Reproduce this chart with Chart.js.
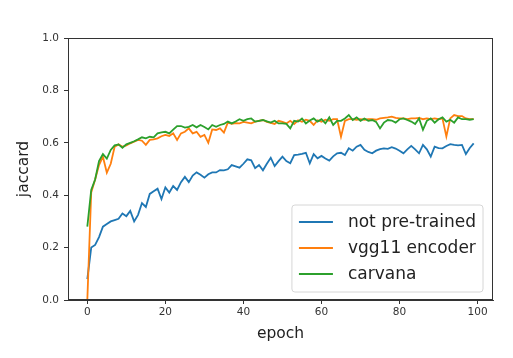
<!DOCTYPE html>
<html>
<head>
<meta charset="utf-8">
<script src="https://cdn.jsdelivr.net/npm/chart.js@4"></script>
<style>
html,body{margin:0;padding:0;background:#fff;}
canvas{display:block;}
</style>
</head>
<body>
<canvas id="c" width="513" height="358"></canvas>
<script>
const epochs = Array.from({length: 100}, (_, i) => i);
const seriesLabels = ["not pre-trained", "vgg11 encoder", "carvana"];
const xTicks = [0, 20, 40, 60, 80, 100];
const yTicks = [0.0, 0.2, 0.4, 0.6, 0.8, 1.0];

const notPretrained = [
0.08,0.20,0.21,0.24,0.28,0.29,0.30,0.305,0.31,0.33,
0.32,0.34,0.30,0.325,0.37,0.355,0.405,0.415,0.425,0.385,
0.43,0.41,0.435,0.42,0.45,0.47,0.45,0.475,0.487,0.478,
0.467,0.48,0.487,0.487,0.496,0.495,0.499,0.515,0.51,0.505,
0.52,0.537,0.533,0.503,0.515,0.495,0.52,0.543,0.511,0.53,
0.547,0.53,0.522,0.553,0.555,0.558,0.562,0.522,0.557,0.541,
0.55,0.54,0.532,0.548,0.56,0.562,0.553,0.579,0.57,0.585,
0.592,0.573,0.565,0.56,0.57,0.576,0.579,0.577,0.583,0.578,
0.57,0.56,0.575,0.588,0.575,0.56,0.592,0.575,0.547,0.585,
0.58,0.579,0.588,0.595,0.592,0.59,0.592,0.557,0.58,0.598
];
const vgg11Encoder = [
0.0,0.41,0.46,0.515,0.547,0.486,0.52,0.585,0.594,0.585,
0.59,0.598,0.604,0.611,0.608,0.592,0.611,0.613,0.617,0.625,
0.63,0.626,0.636,0.611,0.636,0.642,0.655,0.636,0.642,0.623,
0.63,0.60,0.651,0.649,0.655,0.639,0.677,0.672,0.675,0.674,
0.68,0.677,0.674,0.681,0.684,0.687,0.68,0.676,0.672,0.684,
0.68,0.674,0.684,0.672,0.686,0.68,0.688,0.684,0.668,0.686,
0.68,0.688,0.684,0.69,0.69,0.623,0.684,0.69,0.69,0.688,
0.69,0.688,0.69,0.69,0.688,0.693,0.695,0.697,0.70,0.695,
0.693,0.693,0.69,0.693,0.693,0.695,0.69,0.693,0.69,0.693,
0.69,0.693,0.624,0.693,0.706,0.702,0.702,0.693,0.69,0.69
];
const carvana = [
0.28,0.42,0.46,0.53,0.557,0.54,0.573,0.59,0.594,0.581,
0.594,0.60,0.606,0.613,0.621,0.617,0.623,0.621,0.636,0.64,
0.642,0.636,0.65,0.664,0.664,0.658,0.661,0.668,0.659,0.668,
0.66,0.651,0.668,0.661,0.668,0.672,0.681,0.674,0.681,0.69,
0.684,0.69,0.693,0.681,0.684,0.687,0.682,0.677,0.684,0.674,
0.674,0.672,0.655,0.684,0.681,0.693,0.674,0.685,0.693,0.681,
0.69,0.674,0.697,0.668,0.684,0.684,0.693,0.706,0.687,0.697,
0.684,0.693,0.684,0.687,0.68,0.655,0.677,0.687,0.685,0.677,
0.69,0.693,0.687,0.681,0.672,0.693,0.65,0.684,0.693,0.677,
0.69,0.697,0.681,0.688,0.677,0.697,0.69,0.69,0.688,0.69
];

const colors = ["#1f77b4", "#ff7f0e", "#2ca02c"];
const allSeries = [notPretrained, vgg11Encoder, carvana];

const datasets = allSeries.map((vals, i) => ({
  label: seriesLabels[i],
  data: epochs.map((e, j) => ({x: e, y: vals[j]})),
  borderColor: colors[i],
  backgroundColor: colors[i],
  borderWidth: 1.8,
  pointRadius: 0,
  tension: 0,
  fill: false,
  order: 3 - i
}));

const FONT = "'DejaVu Sans', sans-serif";

const framePlugin = {
  id: 'frame',
  afterDatasetsDraw(chart) {
    const {ctx, chartArea: a} = chart;
    ctx.save();
    ctx.strokeStyle = '#333';
    ctx.lineWidth = 1;
    ctx.strokeRect(Math.round(a.left) + 0.5, Math.round(a.top) + 0.5,
                   Math.round(a.right - a.left) - 1, Math.round(a.bottom - a.top) - 1);
    ctx.restore();
  }
};

const legendPlugin = {
  id: 'mplLegend',
  afterDraw(chart) {
    const {ctx, chartArea: a} = chart;
    const fs = 17;
    ctx.save();
    ctx.font = fs + "px " + FONT;
    const padX = 7, handle = 34, gap = 15, step = 26, padTop = 17, padBot = 18;
    let maxW = 0;
    seriesLabels.forEach(l => { maxW = Math.max(maxW, ctx.measureText(l).width); });
    const w = padX + handle + gap + maxW + padX;
    const h = padTop + step * 2 + padBot;
    const right = a.right - 10, bottom = a.bottom - 8;
    const left = right - w, top = bottom - h;
    const r = 3;
    ctx.beginPath();
    ctx.moveTo(left + r, top);
    ctx.lineTo(right - r, top);
    ctx.quadraticCurveTo(right, top, right, top + r);
    ctx.lineTo(right, bottom - r);
    ctx.quadraticCurveTo(right, bottom, right - r, bottom);
    ctx.lineTo(left + r, bottom);
    ctx.quadraticCurveTo(left, bottom, left, bottom - r);
    ctx.lineTo(left, top + r);
    ctx.quadraticCurveTo(left, top, left + r, top);
    ctx.closePath();
    ctx.fillStyle = 'rgba(255,255,255,0.8)';
    ctx.fill();
    ctx.strokeStyle = '#d6d6d6';
    ctx.lineWidth = 1;
    ctx.stroke();
    ctx.textBaseline = 'middle';
    seriesLabels.forEach((l, i) => {
      const cy = top + padTop + i * step;
      ctx.beginPath();
      ctx.strokeStyle = colors[i];
      ctx.lineWidth = 2;
      ctx.moveTo(left + padX, cy);
      ctx.lineTo(left + padX + handle, cy);
      ctx.stroke();
      ctx.fillStyle = '#222';
      ctx.fillText(l, left + padX + handle + gap, cy + 1);
    });
    ctx.restore();
  }
};

new Chart(document.getElementById('c'), {
  type: 'line',
  data: {datasets},
  options: {
    responsive: false,
    animation: false,
    events: [],
    layout: {padding: {top: 38, right: 20, left: 0, bottom: 0}},
    plugins: {legend: {display: false}, tooltip: {enabled: false}},
    scales: {
      x: {
        type: 'linear',
        min: -4.95,
        max: 103.95,
        afterBuildTicks: s => { s.ticks = xTicks.map(v => ({value: v})); },
        afterFit: s => { s.height = 58; },
        grid: {drawOnChartArea: false, drawTicks: true, tickLength: 4, tickColor: '#333'},
        border: {display: true, color: '#333', width: 1},
        ticks: {color: '#333', font: {family: FONT, size: 10.5}, padding: 2, maxRotation: 0,
                callback: v => String(v)},
        title: {display: true, text: 'epoch', color: '#222',
                font: {family: FONT, size: 15.5}, padding: {top: 0, bottom: 15}}
      },
      y: {
        type: 'linear',
        min: 0,
        max: 1,
        afterBuildTicks: s => { s.ticks = yTicks.map(v => ({value: v})); },
        afterFit: s => { s.width = 68; },
        grid: {drawOnChartArea: false, drawTicks: true, tickLength: 4, tickColor: '#333'},
        border: {display: true, color: '#333', width: 1},
        ticks: {color: '#333', font: {family: FONT, size: 10.5}, padding: 5,
                callback: v => Number(v).toFixed(1)},
        title: {display: true, text: 'jaccard', color: '#222',
                font: {family: FONT, size: 15.5}, padding: {top: 15, bottom: 0}}
      }
    }
  },
  plugins: [framePlugin, legendPlugin]
});
</script>
</body>
</html>
